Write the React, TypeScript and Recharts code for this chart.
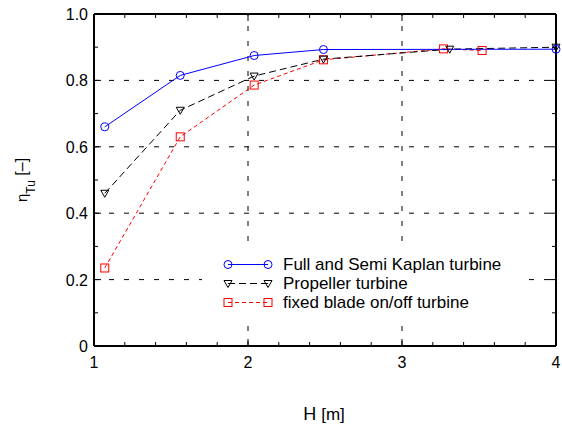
import React from 'react';
import { LineChart, Line, XAxis, YAxis, ReferenceLine } from 'recharts';

const kaplanH = [1.07, 1.56, 2.04, 2.49, 4.0];
const kaplanEta = [0.66, 0.815, 0.875, 0.893, 0.894];
const propH = [1.07, 1.56, 2.04, 2.49, 3.31, 4.0];
const propEta = [0.46, 0.71, 0.813, 0.864, 0.894, 0.9];
const fixedH = [1.07, 1.56, 2.04, 2.49, 3.27, 3.52];
const fixedEta = [0.235, 0.63, 0.786, 0.862, 0.895, 0.89];

const X_TICKS = [1, 1.2, 1.4, 1.6, 1.8, 2, 2.2, 2.4, 2.6, 2.8, 3, 3.2, 3.4, 3.6, 3.8, 4];
const X_MAJOR = [1, 2, 3, 4];
const X_GRID = [2, 3];
const Y_TICKS = [0, 0.1, 0.2, 0.3, 0.4, 0.5, 0.6, 0.7, 0.8, 0.9, 1.0];
const Y_MAJOR = [0, 0.2, 0.4, 0.6, 0.8, 1.0];
const Y_GRID = [0.2, 0.4, 0.6, 0.8];

const W = 562;
const H = 427;
const PLOT = { left: 94, top: 14, right: 556, bottom: 346 };
const FONT = '"Liberation Sans", Arial, sans-serif';

const zip = (xs: number[], ys: number[]) => xs.map((h, i) => ({ h, eta: ys[i] }));
const kaplan = zip(kaplanH, kaplanEta);
const propeller = zip(propH, propEta);
const fixed = zip(fixedH, fixedEta);

const BLUE = '#0000ff';
const RED = '#ff0000';
const BLACK = '#000000';

const CircleDot = (p: any) => (
  <circle key={`c-${p.index}`} cx={p.cx} cy={p.cy} r={4} fill="none" stroke={BLUE} strokeWidth={1} />
);
const TriDot = (p: any) => (
  <polygon
    key={`t-${p.index}`}
    points={`${p.cx - 4},${p.cy - 3} ${p.cx + 4},${p.cy - 3} ${p.cx},${p.cy + 4}`}
    fill="none"
    stroke={BLACK}
    strokeWidth={1}
  />
);
const SquareDot = (p: any) => (
  <rect key={`s-${p.index}`} x={p.cx - 4} y={p.cy - 4} width={8} height={8} fill="none" stroke={RED} strokeWidth={1} />
);

const XTick = (props: any) => {
  const { x, payload } = props;
  const major = X_MAJOR.includes(payload.value);
  const len = major ? 7 : 4;
  return (
    <g>
      <line x1={x} x2={x} y1={PLOT.bottom} y2={PLOT.bottom - len} stroke={BLACK} />
      <line x1={x} x2={x} y1={PLOT.top} y2={PLOT.top + len} stroke={BLACK} />
      {major && (
        <text x={x} y={PLOT.bottom + 22} textAnchor="middle" fontSize={16} fontFamily={FONT} fill={BLACK}>
          {payload.value}
        </text>
      )}
    </g>
  );
};

const YTick = (props: any) => {
  const { y, payload } = props;
  const major = Y_MAJOR.includes(payload.value);
  const len = major ? 7 : 4;
  const label = payload.value === 0 ? '0' : payload.value.toFixed(1);
  return (
    <g>
      <line x1={PLOT.left} x2={PLOT.left + len} y1={y} y2={y} stroke={BLACK} />
      <line x1={PLOT.right} x2={PLOT.right - len} y1={y} y2={y} stroke={BLACK} />
      {major && (
        <text x={PLOT.left - 6} y={y + 6} textAnchor="end" fontSize={16} fontFamily={FONT} fill={BLACK}>
          {label}
        </text>
      )}
    </g>
  );
};

const XTitle = () => (
  <text x={324} y={420} textAnchor="middle" fontFamily={FONT} fill={BLACK}>
    <tspan fontSize={18}>H </tspan>
    <tspan fontSize={17}>[m]</tspan>
  </text>
);

const YTitle = () => (
  <text transform="translate(27,180) rotate(-90)" textAnchor="middle" fontFamily={FONT} fill={BLACK}>
    <tspan fontSize={15}>η</tspan>
    <tspan fontSize={12} dy={8}>Tu</tspan>
    <tspan fontSize={16} dy={-8}> [–]</tspan>
  </text>
);

const legendItems = [
  { name: 'Full and Semi Kaplan turbine', color: BLUE, dash: undefined, marker: 'circle' },
  { name: 'Propeller turbine', color: BLACK, dash: '7 4', marker: 'tri' },
  { name: 'fixed blade on/off turbine', color: RED, dash: '4 3', marker: 'square' },
];

const LegendMarker = ({ kind, cx, cy, color }: any) => {
  if (kind === 'circle') return <circle cx={cx} cy={cy} r={4} fill="none" stroke={color} />;
  if (kind === 'tri')
    return <polygon points={`${cx - 4},${cy - 3} ${cx + 4},${cy - 3} ${cx},${cy + 4}`} fill="none" stroke={color} />;
  return <rect x={cx - 4} y={cy - 4} width={8} height={8} fill="none" stroke={color} />;
};

const ChartLegend = () => (
  <div
    style={{
      position: 'absolute',
      left: 202,
      top: 251,
      width: 318,
      height: 66,
      boxSizing: 'border-box',
      padding: '3.5px 0 0 20px',
      background: '#fff',
      fontFamily: FONT,
      fontSize: 17,
      lineHeight: '19px',
    }}
  >
    {legendItems.map((it) => (
      <div key={it.name} style={{ display: 'flex', alignItems: 'center', whiteSpace: 'nowrap', height: 19 }}>
        <svg width={56} height={19} style={{ display: 'block' }}>
          <line x1={6} x2={46} y1={9.5} y2={9.5} stroke={it.color} strokeDasharray={it.dash} />
          <LegendMarker kind={it.marker} cx={6} cy={9.5} color={it.color} />
          <LegendMarker kind={it.marker} cx={46} cy={9.5} color={it.color} />
        </svg>
        <span style={{ marginLeft: 5 }}>{it.name}</span>
      </div>
    ))}
  </div>
);

export default function App() {
  return (
    <div style={{ position: 'absolute', left: 0, top: 0, width: W, height: H, background: '#fff' }}>
      <LineChart
        width={W}
        height={H}
        margin={{ top: PLOT.top, right: W - PLOT.right, bottom: H - PLOT.bottom - 30, left: PLOT.left - 60 }}
      >
        <XAxis
          dataKey="h"
          type="number"
          domain={[1, 4]}
          ticks={X_TICKS}
          interval={0}
          allowDuplicatedCategory={false}
          height={30}
          tickLine={false}
          axisLine={{ stroke: BLACK, strokeWidth: 2 }}
          tick={<XTick />}
          label={{ content: <XTitle /> }}
        />
        <YAxis
          type="number"
          domain={[0, 1]}
          ticks={Y_TICKS}
          interval={0}
          width={60}
          tickLine={false}
          axisLine={{ stroke: BLACK, strokeWidth: 2 }}
          tick={<YTick />}
          label={{ content: <YTitle /> }}
        />
        {X_GRID.map((v) => (
          <ReferenceLine key={`gx-${v}`} x={v} stroke={BLACK} strokeDasharray="5 10" strokeWidth={1} />
        ))}
        {Y_GRID.map((v) => (
          <ReferenceLine key={`gy-${v}`} y={v} stroke={BLACK} strokeDasharray="5 10" strokeWidth={1} />
        ))}
        <ReferenceLine y={1} stroke={BLACK} strokeWidth={2} />
        <ReferenceLine x={4} stroke={BLACK} strokeWidth={2} />
        <Line
          data={fixed}
          dataKey="eta"
          stroke={RED}
          strokeWidth={1}
          strokeDasharray="4 3"
          dot={SquareDot}
          isAnimationActive={false}
        />
        <Line
          data={propeller}
          dataKey="eta"
          stroke={BLACK}
          strokeWidth={1}
          strokeDasharray="7 4"
          dot={TriDot}
          isAnimationActive={false}
        />
        <Line
          data={kaplan}
          dataKey="eta"
          stroke={BLUE}
          strokeWidth={1}
          dot={CircleDot}
          isAnimationActive={false}
        />
      </LineChart>
      <ChartLegend />
    </div>
  );
}
